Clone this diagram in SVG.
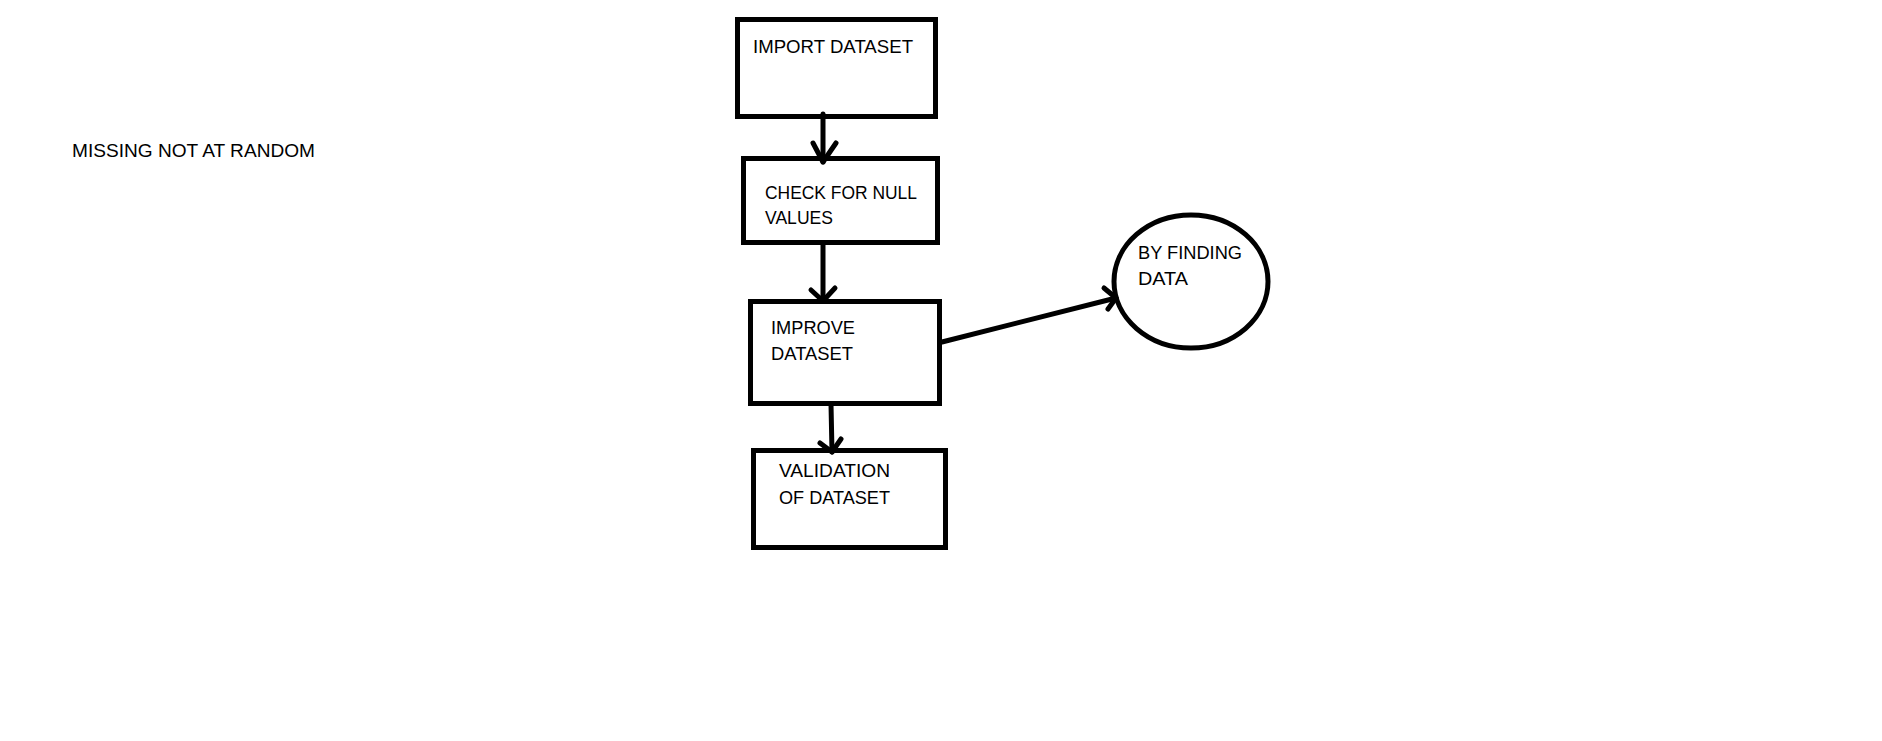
<svg xmlns="http://www.w3.org/2000/svg" width="1882" height="741" viewBox="0 0 1882 741">
  <style>
    .box { fill: none; stroke: #000; stroke-width: 5; }
    .wire { fill: none; stroke: #000; stroke-width: 5; stroke-linecap: round; stroke-linejoin: round; }
    .lbl { font-family: "Liberation Sans", Arial, sans-serif; font-size: 19px; fill: #000; }
  </style>
  <rect width="1882" height="741" fill="#fff"/>

  <g id="title">
    <text class="lbl" x="72" y="157" textLength="243" lengthAdjust="spacingAndGlyphs">MISSING NOT AT RANDOM</text>
  </g>

  <g id="connectors">
    <!-- import -> check -->
    <path class="wire" d="M823 114 L823 162"/>
    <path class="wire" d="M813 143 L823 162 L836 143"/>
    <!-- check -> improve -->
    <path class="wire" d="M823 244 L823 301"/>
    <path class="wire" d="M811 290 L823 301 L835 288"/>
    <!-- improve -> validation -->
    <path class="wire" d="M831 404 L832 452"/>
    <path class="wire" d="M820 443 L832 452 L841 439"/>
    <!-- improve -> finding data -->
    <path class="wire" d="M942 342 L1116 298"/>
    <path class="wire" d="M1104 288 L1116 298 L1108 309"/>
  </g>

  <g id="import-dataset">
    <rect class="box" x="737.5" y="19.5" width="198" height="97"/>
    <text class="lbl" x="753" y="53" textLength="160" lengthAdjust="spacingAndGlyphs">IMPORT DATASET</text>
  </g>

  <g id="check-null">
    <rect class="box" x="743.5" y="158.5" width="194" height="84"/>
    <text class="lbl" x="765" y="199" textLength="152" lengthAdjust="spacingAndGlyphs">CHECK FOR NULL</text>
    <text class="lbl" x="765" y="224" textLength="68" lengthAdjust="spacingAndGlyphs">VALUES</text>
  </g>

  <g id="improve-dataset">
    <rect class="box" x="750.5" y="301.5" width="189" height="102"/>
    <text class="lbl" x="771" y="334" textLength="84" lengthAdjust="spacingAndGlyphs">IMPROVE</text>
    <text class="lbl" x="771" y="360" textLength="82" lengthAdjust="spacingAndGlyphs">DATASET</text>
  </g>

  <g id="validation">
    <rect class="box" x="753.5" y="450.5" width="192" height="97"/>
    <text class="lbl" x="779" y="477" textLength="111" lengthAdjust="spacingAndGlyphs">VALIDATION</text>
    <text class="lbl" x="779" y="504" textLength="111" lengthAdjust="spacingAndGlyphs">OF DATASET</text>
  </g>

  <g id="finding-data">
    <ellipse class="box" cx="1191" cy="281.5" rx="77" ry="66.5"/>
    <text class="lbl" x="1138" y="259" textLength="104" lengthAdjust="spacingAndGlyphs">BY FINDING</text>
    <text class="lbl" x="1138" y="285" textLength="50" lengthAdjust="spacingAndGlyphs">DATA</text>
  </g>
</svg>
